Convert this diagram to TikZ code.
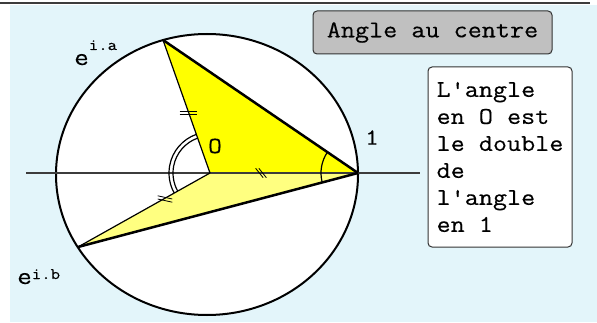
\documentclass[tikz,border=0pt]{standalone}
\usepackage{fontspec}
\setmonofont{Latin Modern Mono}[FakeStretch=1.14, FakeBold=0.3]
\usepackage{xcolor}
\usepackage{tikz}
\usetikzlibrary{positioning}

\definecolor{fondbleu}{RGB}{227,245,250}
\definecolor{grisbox}{RGB}{192,192,192}
\definecolor{jaune}{RGB}{255,255,0}
\definecolor{jaunepale}{RGB}{255,255,128}
\definecolor{traitgris}{RGB}{60,60,60}

\newcommand{\expo}[2]{{\fontsize{25}{25}\selectfont e}\raisebox{#1}{\fontsize{16}{16}\selectfont i.#2}}

\begin{document}
\begin{tikzpicture}[x=1pt, y=1pt,
  titre/.style={rectangle, draw=black!80, fill=grisbox, rounded corners=4pt, line width=1pt,
    minimum width=239pt, minimum height=43pt, font=\fontsize{24}{27}\selectfont\ttfamily},
  remarque/.style={rectangle, draw=black!80, fill=white, rounded corners=4pt, line width=1pt,
    minimum width=144pt, minimum height=180pt, inner sep=6pt,
    align=left, font=\fontsize{24}{27}\selectfont\ttfamily},
  lbl/.style={inner sep=0pt, font=\fontsize{23}{23}\selectfont\ttfamily},
  fort/.style={line width=2.5pt},
  fin/.style={line width=1.2pt},
  marque/.style={line width=0.8pt}
]
  \useasboundingbox (0,0) rectangle (597,322);
  \fill[fondbleu] (10,0) rectangle (597,317);
  \draw[traitgris, line width=2pt] (0,319) -- (590,319);

  \coordinate (pC)   at (207,147.5);
  \coordinate (pO)   at (210,149);
  \coordinate (pA)   at (163,282);
  \coordinate (pB)   at (78,75);
  \coordinate (pun)  at (358,149);
  \coordinate (axeG) at (26,149);
  \coordinate (axeD) at (420,149);

  \filldraw[fill=white, line width=2pt] (pC) ellipse [x radius=151, y radius=140.5];
  \fill[jaune]     (pO) -- (pA) -- (pun) -- cycle;
  \fill[jaunepale] (pO) -- (pB) -- (pun) -- cycle;

  \draw[traitgris, line width=2pt] (axeG) -- (axeD);
  \draw[fin]  (pO) -- (pA);
  \draw[fin]  (pO) -- (pB);
  \draw[fort] (pA) -- (pun);
  \draw[fort] (pB) -- (pun);

  % angles
  \draw[fin] ([shift={(109.5:37)}]pO) arc[start angle=109.5, end angle=209.3, radius=37];
  \draw[fin] ([shift={(109.5:41)}]pO) arc[start angle=109.5, end angle=209.3, radius=41];
  \draw[fin] ([shift={(145.7:37)}]pun) arc[start angle=145.7, end angle=194.8, radius=37];

  % marques
  \coordinate (tOA) at (188,209.5);
  \coordinate (tOun) at (261,149);
  \coordinate (tOB) at (165,123);
  \foreach \d in {-1.6,1.6} {
    \draw[marque] ([shift={(-8.5,\d)}]tOA) -- ++(17,0);
    \draw[marque] ([shift={(-3.75+\d,4.7)}]tOun) -- ++(7.5,-9.4);
    \draw[marque] ([shift={(-7.3,1.6+\d)}]tOB) -- ++(14.6,-3.2);
  }

  \node[lbl, anchor=base west] (ea) at (74,257) {\expo{15pt}{a}};
  \node[lbl, anchor=base west] (eb) at (17,38) {\expo{5pt}{b}};
  \node[lbl] (lO)  at (215,176)   {O};
  \node[lbl] (lun) at (372,184.5) {1};

  \node[titre]    (titre) at (432.5,289.5) {Angle au centre};
  \node[remarque] (note)  at (500,165)
    {L'angle\\en O est\\le double\\de\\l'angle\\en 1};
\end{tikzpicture}
\end{document}
